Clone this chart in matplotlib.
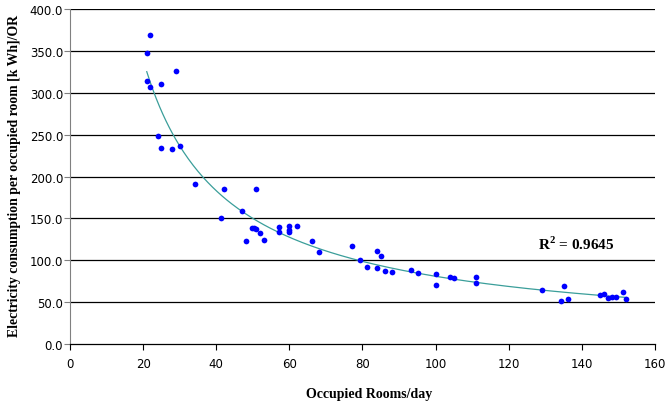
import matplotlib
matplotlib.use("Agg")
import matplotlib.pyplot as plt
import numpy as np

# occupied rooms per day vs electricity per occupied room
rooms = [22.0, 21.0, 29.0, 21.0, 22.0, 25.0, 24.1, 25.0, 28.0, 30.1,
         34.1, 42.1, 51.0, 47.0, 41.2, 49.9, 50.4, 51.0, 52.1, 48.1,
         53.1, 57.1, 57.1, 60.0, 60.0, 60.0, 62.0, 66.1, 68.0, 77.1,
         79.2, 81.1, 84.1, 85.1, 84.1, 86.1, 88.0,
         93.2, 95.2, 100.1, 100.1, 104.0, 105.0, 111.0, 111.0,
         129.0, 135.2, 134.2, 136.1, 144.9, 146.1, 147.1, 148.1, 149.2, 151.2, 152.1]
kwh = [368.6, 347.1, 325.6, 314.0, 306.5, 310.4, 248.7, 234.0, 232.8, 236.4,
       191.0, 185.4, 184.7, 158.4, 150.4, 138.1, 138.1, 137.0, 132.5, 123.3,
       124.5, 139.7, 133.4, 140.5, 136.1, 133.4, 140.9, 122.6, 110.2, 117.0,
       100.3, 91.6, 111.0, 104.7, 90.4, 87.5, 86.0,
       88.4, 85.1, 83.2, 70.4, 80.4, 78.4, 80.4, 72.5,
       64.5, 68.9, 51.3, 54.1, 58.9, 59.7, 54.6, 55.8, 56.5, 61.7, 54.1]
r2_value = 0.9645

x = np.array(rooms)
y = np.array(kwh)

# power trendline (Excel style: log-log least squares)
b, loga = np.polyfit(np.log(x), np.log(y), 1)
xs = np.linspace(x.min(), x.max(), 300)
ys = np.exp(loga) * xs ** b

plt.rcParams["mathtext.fontset"] = "custom"
plt.rcParams["mathtext.bf"] = "Liberation Serif:bold"
plt.rcParams["mathtext.rm"] = "Liberation Serif:bold"

fig = plt.figure(figsize=(6.69, 4.06), dpi=100)
ax = fig.add_axes([0.1046, 0.1502, 0.8745, 0.8252])

ax.set_xlim(0, 160)
ax.set_ylim(0, 400)
ax.set_xticks(np.arange(0, 161, 20))
ax.set_yticks(np.arange(0, 401, 50))
ax.set_yticklabels([f"{v:.1f}" for v in np.arange(0, 401, 50)])

for v in np.arange(50, 401, 50):
    ax.axhline(v, color="black", lw=0.9, zorder=1)

ax.plot(xs, ys, color="#3a9e9a", lw=0.9, zorder=2)
ax.scatter(x, y, s=17, color="#0000ff", zorder=3, linewidths=0)

for s in ["top", "right"]:
    ax.spines[s].set_visible(False)
ax.spines["left"].set_color("#808080")
ax.spines["bottom"].set_color("black")
ax.spines["bottom"].set_linewidth(0.9)
ax.tick_params(axis="both", direction="out", length=4, width=0.8,
               labelsize=8.5, labelcolor="black")
ax.tick_params(axis="y", color="#808080", pad=1)
ax.tick_params(axis="x", pad=5)

ax.text(138.4, 120, r"R$^{2}$ = " + f"{r2_value:.4f}", ha="center", va="center",
        family="Liberation Serif", weight="bold", fontsize=11)

fig.text(15 / 669, 1 - 176 / 406,
         "Electricity consumption per occupied room [k Wh]/OR",
         rotation=90, ha="center", va="center",
         family="Liberation Serif", weight="bold", fontsize=9.9)
fig.text(369 / 669, 1 - 395 / 406, "Occupied Rooms/day",
         ha="center", va="center",
         family="Liberation Serif", weight="bold", fontsize=10)

plt.savefig("out.png", dpi=100)
